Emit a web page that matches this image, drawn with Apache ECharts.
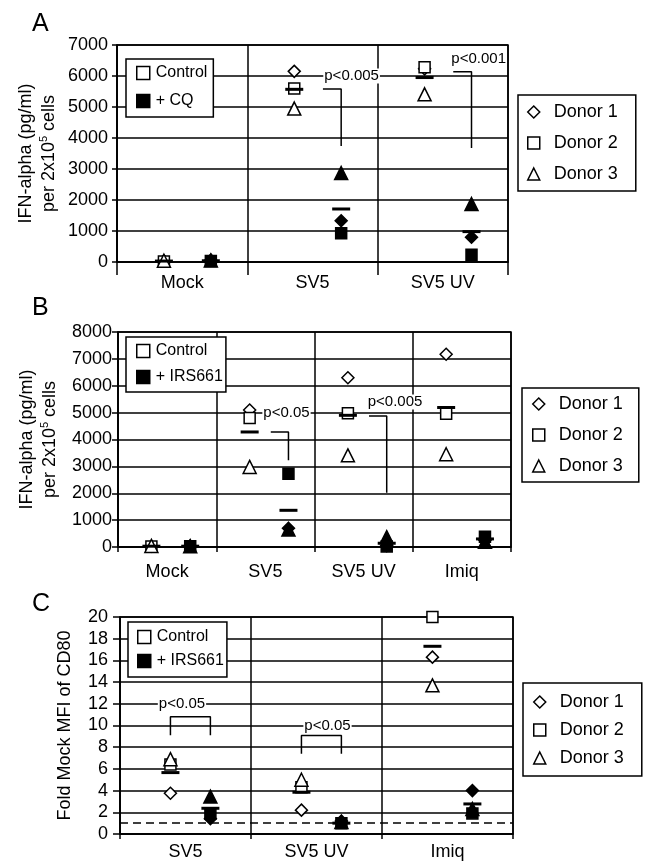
<!DOCTYPE html>
<html><head><meta charset="utf-8">
<script src="https://cdn.jsdelivr.net/npm/echarts@6/dist/echarts.min.js"></script>
<style>html,body{margin:0;padding:0;background:#fff}#c{width:645px;height:866px}</style>
</head><body><div id="c"></div>
<script>
const FONT = '"Liberation Sans", Arial, Helvetica, sans-serif';
const donors = ['Donor 1', 'Donor 2', 'Donor 3'];

// ---------- Panel A (IFN-alpha, chloroquine) ----------
const aCats = ['Mock', 'SV5', 'SV5 UV'];
const aYTicks = [0, 1000, 2000, 3000, 4000, 5000, 6000, 7000];
const aCtrlD1 = [40, 6150, 6230];
const aCtrlD2 = [20, 5600, 6280];
const aCtrlD3 = [40, 4950, 5410];
const aCqD1 = [60, 1330, 800];
const aCqD2 = [30, 930, 230];
const aCqD3 = [50, 2870, 1870];
const aCtrlMean = [30, 5570, 5950];
const aCqMean = [40, 1710, 980];
const aPText = ['p<0.005', 'p<0.001'];
const aPGroup = [1, 2];
const aPY = [6000, 6550];
const aBracketTop = [5580, 6140];
const aBracketBottom = [3740, 3680];

// ---------- Panel B (IFN-alpha, IRS661) ----------
const bCats = ['Mock', 'SV5', 'SV5 UV', 'Imiq'];
const bYTicks = [0, 1000, 2000, 3000, 4000, 5000, 6000, 7000, 8000];
const bCtrlD1 = [30, 5100, 6300, 7170];
const bCtrlD2 = [20, 4800, 4980, 4960];
const bCtrlD3 = [40, 2980, 3410, 3450];
const bIrsD1 = [40, 700, 50, 250];
const bIrsD2 = [30, 2730, 20, 380];
const bIrsD3 = [30, 650, 370, 200];
const bCtrlMean = [30, 4280, 4900, 5190];
const bIrsMean = [30, 1365, 140, 300];
const bPText = ['p<0.05', 'p<0.005'];
const bPGroup = [1, 2];
const bPY = [5000, 5400];
const bBracketTop = [4280, 4870];
const bBracketBottom = [3230, 2020];

// ---------- Panel C (CD80 fold MFI) ----------
const cCats = ['SV5', 'SV5 UV', 'Imiq'];
const cYTicks = [0, 2, 4, 6, 8, 10, 12, 14, 16, 18, 20];
const cCtrlD1 = [3.75, 2.2, 16.3];
const cCtrlD2 = [6.4, 4.3, 20.0];
const cCtrlD3 = [6.9, 5.0, 13.7];
const cIrsD1 = [1.4, 1.2, 4.0];
const cIrsD2 = [1.9, 1.0, 1.9];
const cIrsD3 = [3.45, 1.1, 2.3];
const cCtrlMean = [5.66, 3.85, 17.3];
const cIrsMean = [2.37, 1.0, 2.77];
const cPText = ['p<0.05', 'p<0.05'];
const cPGroup = [0, 1];
const cPY = [12, 10];
const cBracketTop = [10.8, 9.07];
const cBracketBottom = [9.1, 7.4];
const cBaseline = 1;

const panels = [
  { letter: 'A', cats: aCats, yTicks: aYTicks, ctrl: [aCtrlD1, aCtrlD2, aCtrlD3], trt: [aCqD1, aCqD2, aCqD3],
    ctrlMean: aCtrlMean, trtMean: aCqMean, trtName: '+ CQ',
    pText: aPText, pGroup: aPGroup, pY: aPY, bTop: aBracketTop, bBottom: aBracketBottom,
    yName: '{a|IFN-alpha (pg/ml)}\n{a|per 2x10}{s|5}{a| cells}',
    grid: { left: 117, right: 137, top: 45, height: 217 }, ctrlX: 0.36, trtX: 0.72, bStart: 0.58, pX: [0.80, 0.775],
    bracket: 'L', tickLen: 13, xMargin: 12, yMargin: 9, yTickLen: 5, nameGap: 56, titleTop: 12,
    legIn: { left: 126, top: 59, itemGap: 12, padding: [6, 6, 8, 10] },
    legDon: { left: 518, top: 95, itemGap: 13, padding: [8, 18, 8, 9] } },
  { letter: 'B', cats: bCats, yTicks: bYTicks, ctrl: [bCtrlD1, bCtrlD2, bCtrlD3], trt: [bIrsD1, bIrsD2, bIrsD3],
    ctrlMean: bCtrlMean, trtMean: bIrsMean, trtName: '+ IRS661',
    pText: bPText, pGroup: bPGroup, pY: bPY, bTop: bBracketTop, bBottom: bBracketBottom,
    yName: '{a|IFN-alpha (pg/ml)}\n{a|per 2x10}{s|5}{a| cells}',
    grid: { left: 118, right: 134, top: 332, height: 215 }, ctrlX: 0.34, trtX: 0.735, bStart: 0.555, pX: [0.715, 0.82],
    bracket: 'L', tickLen: 5, xMargin: 16, yMargin: 6, yTickLen: 6, nameGap: 56, titleTop: 296,
    legIn: { left: 126, top: 337, itemGap: 10, padding: [6, 3, 7, 10] },
    legDon: { left: 522, top: 388, itemGap: 13, padding: [7, 16, 7, 10] } },
  { letter: 'C', cats: cCats, yTicks: cYTicks, ctrl: [cCtrlD1, cCtrlD2, cCtrlD3], trt: [cIrsD1, cIrsD2, cIrsD3],
    ctrlMean: cCtrlMean, trtMean: cIrsMean, trtName: '+ IRS661',
    pText: cPText, pGroup: cPGroup, pY: cPY, bTop: cBracketTop, bBottom: cBracketBottom,
    yName: 'Fold Mock MFI of CD80',
    grid: { left: 120, right: 132, top: 617, height: 217 }, ctrlX: 0.385, trtX: 0.69, pX: [0.473, 0.584],
    bracket: 'U', tickLen: 5, xMargin: 9, yMargin: 12, yTickLen: 7, nameGap: 43, titleTop: 592,
    legIn: { left: 128, top: 622, itemGap: 8, padding: [7, 3, 8, 9] },
    legDon: { left: 523, top: 683, itemGap: 10, padding: [10, 18, 9, 10] } }
];

const symbols = ['diamond', 'rect', 'triangle'];
const symSizes = [12, 11, 13];
const BLACK = '#000';
const LW = 1.5;
function markStyle(filled) { return { color: filled ? BLACK : '#fff', borderColor: BLACK, borderWidth: LW, opacity: 1 }; }

const grids = [], xAxes = [], yAxes = [], series = [], legends = [], titles = [];

// dummy series for treatment legends
series.push({ type: 'scatter', name: 'Control', xAxisIndex: 0, yAxisIndex: 0, symbol: 'rect', itemStyle: markStyle(false), data: [] });
series.push({ type: 'scatter', name: '+ CQ', xAxisIndex: 0, yAxisIndex: 0, symbol: 'rect', itemStyle: markStyle(true), data: [] });
series.push({ type: 'scatter', name: '+ IRS661', xAxisIndex: 0, yAxisIndex: 0, symbol: 'rect', itemStyle: markStyle(true), data: [] });

panels.forEach((P, i) => {
  const n = P.cats.length;
  const yt = P.yTicks;
  grids.push(Object.assign({ show: true, borderColor: BLACK, borderWidth: LW, backgroundColor: '#fff' }, P.grid));
  titles.push({ text: P.letter, left: 32, top: P.titleTop, padding: 0,
    textStyle: { fontSize: 25, fontWeight: 'normal', color: BLACK, fontFamily: FONT } });
  // value x axis (hidden) for positions
  xAxes.push({ type: 'value', gridIndex: i, min: 0, max: n, show: false });
  // category axis for labels and dividers
  xAxes.push({ type: 'category', gridIndex: i, data: P.cats, boundaryGap: true, position: 'bottom',
    axisLine: { show: true, lineStyle: { color: BLACK, width: LW } },
    axisTick: { show: true, interval: 0, length: P.tickLen, alignWithLabel: false, lineStyle: { color: BLACK, width: LW } },
    splitLine: { show: true, interval: 0, lineStyle: { color: BLACK, width: LW } },
    axisLabel: { interval: 0, fontSize: 18, color: BLACK, fontFamily: FONT, margin: P.xMargin } });
  yAxes.push({ type: 'value', gridIndex: i, min: yt[0], max: yt[yt.length - 1], interval: yt[1] - yt[0],
    axisLine: { show: true, lineStyle: { color: BLACK, width: LW } },
    axisTick: { show: true, length: P.yTickLen, lineStyle: { color: BLACK, width: LW } },
    splitLine: { show: true, lineStyle: { color: BLACK, width: LW } },
    axisLabel: { fontSize: 18, color: BLACK, fontFamily: FONT, margin: P.yMargin, formatter: v => String(v) },
    name: P.yName, nameLocation: 'middle', nameGap: P.nameGap, nameMoveOverlap: false,
    nameTextStyle: { fontSize: 18, color: BLACK, fontFamily: FONT, lineHeight: 23,
      rich: { a: { fontSize: 18, lineHeight: 23, fontFamily: FONT, color: BLACK },
              s: { fontSize: 11, lineHeight: 23, verticalAlign: 'top', fontFamily: FONT, color: BLACK } } } });

  const xv = i * 2;
  // data points
  [P.ctrl, P.trt].forEach((set, t) => {
    set.forEach((vals, d) => {
      series.push({ type: 'scatter', name: donors[d], xAxisIndex: xv, yAxisIndex: i,
        symbol: symbols[d], symbolSize: symSizes[d], itemStyle: markStyle(t === 1), z: 3, silent: true,
        data: vals.map((v, g) => [g + (t ? P.trtX : P.ctrlX), v]) });
    });
  });
  // means
  const meanSeries = { type: 'scatter', name: 'mean', xAxisIndex: xv, yAxisIndex: i, symbol: 'rect',
    symbolSize: [18, 3], itemStyle: { color: BLACK, opacity: 1 }, z: 4, silent: true,
    data: P.cats.flatMap((c, g) => [[g + P.ctrlX, P.ctrlMean[g]], [g + P.trtX, P.trtMean[g]]]) };
  if (P.letter === 'C') {
    meanSeries.markLine = { silent: true, symbol: ['none', 'none'], label: { show: false },
      lineStyle: { type: [8, 5], color: BLACK, width: LW }, data: [{ yAxis: cBaseline }] };
  }
  series.push(meanSeries);
  // significance brackets
  P.pGroup.forEach((g, k) => {
    let pts;
    if (P.bracket === 'L') {
      pts = [[g + P.bStart, P.bTop[k]], [g + P.trtX, P.bTop[k]], [g + P.trtX, P.bBottom[k]]];
    } else {
      pts = [[g + P.ctrlX, P.bBottom[k]], [g + P.ctrlX, P.bTop[k]], [g + P.trtX, P.bTop[k]], [g + P.trtX, P.bBottom[k]]];
    }
    series.push({ type: 'line', name: 'bracket', xAxisIndex: xv, yAxisIndex: i, symbol: 'none', silent: true,
      lineStyle: { color: BLACK, width: LW, opacity: 1 }, z: 2, data: pts });
  });
  // p-value labels
  series.push({ type: 'scatter', name: 'p', xAxisIndex: xv, yAxisIndex: i, symbolSize: 0, silent: true, z: 5,
    itemStyle: { opacity: 1 },
    data: P.pGroup.map((g, k) => ({ value: [g + P.pX[k], P.pY[k]], name: P.pText[k] })),
    label: { show: true, position: 'inside', formatter: '{b}', fontSize: 15, color: BLACK, fontFamily: FONT,
      backgroundColor: '#fff', padding: [0, 1] } });

  // legends
  legends.push(Object.assign({ data: ['Control', P.trtName], orient: 'vertical', itemWidth: 13, itemHeight: 13,
    borderColor: BLACK, borderWidth: LW, backgroundColor: '#fff', selectedMode: false, z: 10,
    itemStyle: { borderColor: BLACK, borderWidth: LW, opacity: 1 },
    textStyle: { fontSize: 16, color: BLACK, fontFamily: FONT, padding: [0, 0, 0, 1] } }, P.legIn));
  legends.push(Object.assign({ data: donors, orient: 'vertical', itemWidth: 12, itemHeight: 12,
    borderColor: BLACK, borderWidth: LW, selectedMode: false, z: 10,
    itemStyle: { borderColor: BLACK, borderWidth: LW, opacity: 1 },
    textStyle: { fontSize: 18, color: BLACK, fontFamily: FONT, padding: [0, 0, 0, 9] } }, P.legDon));
});

const chart = echarts.init(document.getElementById('c'), null, { renderer: 'canvas' });
chart.setOption({
  backgroundColor: '#fff',
  animation: false,
  textStyle: { fontFamily: FONT },
  title: titles,
  grid: grids,
  xAxis: xAxes,
  yAxis: yAxes,
  legend: legends,
  series: series
});
</script></body></html>
